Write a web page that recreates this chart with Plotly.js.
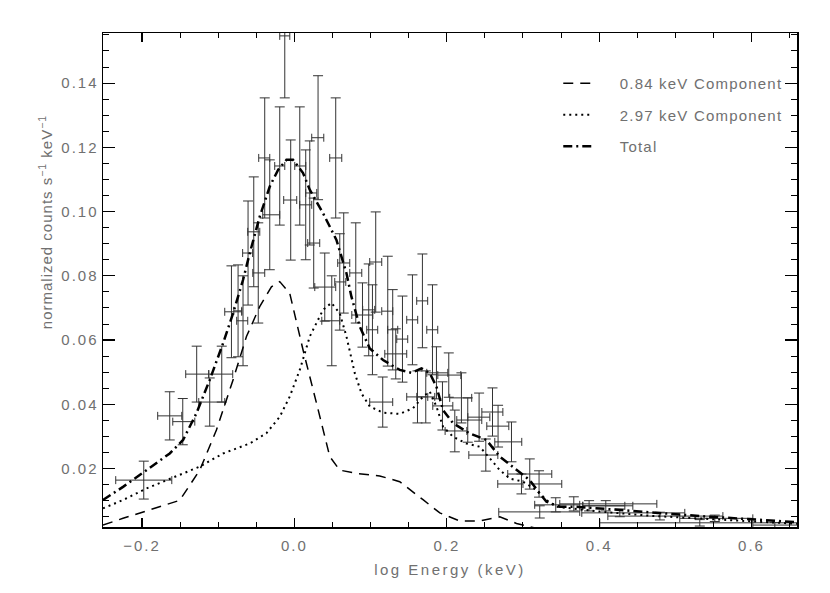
<!DOCTYPE html>
<html>
<head>
<meta charset="utf-8">
<script src="https://cdn.plot.ly/plotly-3.0.1.min.js"></script>
<style>
html,body{margin:0;padding:0;background:#fff;}
#chart{width:830px;height:593px;}
.xtick text, .ytick text {letter-spacing:2px;}
.xtitle {letter-spacing:2.5px;}
.annotation-text {letter-spacing:1px;}
.legendtext {letter-spacing:1.2px;}
</style>
</head>
<body>
<div id="chart"></div>
<script>
// Observed spectrum (log energy, counts) with errors
const dataX = [-0.1978,-0.1637,-0.1466,-0.1283,-0.1112,-0.0954,-0.0827,-0.0740,-0.0675,-0.0609,
  -0.0534,-0.0475,-0.0390,-0.0324,-0.0193,-0.0127,-0.0049,0.0070,0.0148,0.0201,
  0.0310,0.0253,0.0542,0.0398,0.0490,0.0595,0.0647,0.0805,0.0893,0.0975,
  0.1067,0.1024,0.1225,0.1290,0.1418,0.1330,0.1549,0.1680,0.1812,0.1159,
  0.1615,0.1724,0.1864,0.2026,0.1943,0.2192,0.2275,0.2105,0.2424,0.2600,
  0.2673,0.2512,0.2849,0.2980,0.3089,0.3211,0.3430,0.3667,0.3868,0.4087,
  0.3220,0.4271,0.4797,0.5518,0.5321,0.6306];
const dataY = [0.0164,0.0364,0.0346,0.0494,0.0407,0.0494,0.0688,0.0691,0.0660,0.0871,
  0.0937,0.0809,0.1167,0.0990,0.1142,0.1547,0.1036,0.1142,0.1021,0.1058,
  0.1230,0.0902,0.1167,0.0765,0.0660,0.0781,0.0840,0.0809,0.0678,0.0694,
  0.0843,0.0632,0.0690,0.0632,0.0603,0.0557,0.0663,0.0722,0.0632,0.0407,
  0.0423,0.0423,0.0498,0.0491,0.0395,0.0420,0.0351,0.0317,0.0360,0.0376,
  0.0332,0.0242,0.0283,0.0152,0.0183,0.0152,0.0087,0.0090,0.0084,0.0084,
  0.0065,0.0062,0.0052,0.0045,0.0031,0.0024];
const dataErrY = [0.0059,0.0075,0.0072,0.0087,0.0075,0.0087,0.0143,0.0143,0.0140,0.0162,
  0.0171,0.0156,0.0187,0.0171,0.0184,0.0193,0.0187,0.0184,0.0171,0.0162,
  0.0193,0.0140,0.0187,0.0106,0.0140,0.0150,0.0156,0.0156,0.0100,0.0143,
  0.0156,0.0140,0.0171,0.0125,0.0134,0.0078,0.0140,0.0146,0.0140,0.0078,
  0.0081,0.0081,0.0081,0.0069,0.0075,0.0078,0.0069,0.0065,0.0075,0.0075,
  0.0065,0.0050,0.0062,0.0031,0.0047,0.0041,0.0022,0.0022,0.0016,0.0016,
  0.0019,0.0012,0.0012,0.0010,0.0010,0.0008];
const dataErrXMinus = [0.0368,0.0158,0.0131,0.0144,0.0144,0.0171,0.0088,0.0056,0.0083,0.0071,
  0.0079,0.0072,0.0079,0.0092,0.0066,0.0066,0.0092,0.0066,0.0079,0.0053,
  0.0083,0.0079,0.0079,0.0131,0.0131,0.0066,0.0079,0.0079,0.0140,0.0079,
  0.0079,0.0075,0.0079,0.0066,0.0075,0.0144,0.0075,0.0075,0.0075,0.0171,
  0.0141,0.0118,0.0127,0.0144,0.0127,0.0154,0.0144,0.0127,0.0148,0.0140,
  0.0148,0.0223,0.0219,0.0311,0.0289,0.0122,0.0276,0.0184,0.0083,0.0302,
  0.0538,0.0499,0.0683,0.0460,0.1313,0.0289];
const dataErrXPlus = [0.0368,0.0158,0.0158,0.0158,0.0197,0.0144,0.0135,0.0049,0.0062,0.0060,
  0.0079,0.0085,0.0066,0.0131,0.0066,0.0066,0.0079,0.0079,0.0079,0.0092,
  0.0075,0.0079,0.0079,0.0144,0.0105,0.0079,0.0079,0.0079,0.0136,0.0079,
  0.0079,0.0069,0.0066,0.0066,0.0069,0.0144,0.0069,0.0069,0.0069,0.0131,
  0.0135,0.0118,0.0149,0.0158,0.0136,0.0135,0.0184,0.0158,0.0141,0.0136,
  0.0141,0.0158,0.0135,0.0020,0.0289,0.0298,0.0315,0.1090,0.0574,0.0250,
  0.0525,0.0853,0.0827,0.0499,0.1313,0.0880];

// 0.84 keV component (dashed)
const comp1X = [-0.2513,-0.225,-0.1506,-0.1243,-0.1024,-0.0806,-0.063,-0.0456,-0.0302,-0.0193,
  -0.0062,0.0113,0.0289,0.0464,0.0595,0.0814,0.112,0.1382,0.1688,0.1908,0.217,0.2433,0.2696,0.2915,0.3155];
const comp1Y = [0.0024,0.0045,0.0101,0.0195,0.032,0.0476,0.0611,0.0704,0.0766,0.0782,
  0.0746,0.0569,0.0404,0.0237,0.0195,0.0185,0.0177,0.0159,0.0103,0.0062,0.0037,0.0037,0.0050,0.0029,0.0015];

// 2.97 keV component (dotted)
const comp2X = [-0.2513,-0.225,-0.1943,-0.1615,-0.1243,-0.0937,-0.0587,-0.0368,-0.0193,-0.0062,
  0.007,0.0201,0.0375,0.0486,0.0595,0.0683,0.0792,0.088,0.0989,0.1163,0.1382,0.1557,0.1688,0.1776,
  0.1864,0.1951,0.2082,0.2258,0.2433,0.2564,0.2696,0.2827,0.3001,0.3177,0.3308,0.344,0.3614,
  0.401,0.4667,0.5323,0.598,0.6597];
const comp2Y = [0.0076,0.0102,0.0138,0.0170,0.0206,0.0247,0.0278,0.0310,0.0361,0.0424,
  0.0507,0.0611,0.0694,0.0716,0.0683,0.0611,0.0497,0.0434,0.0393,0.0374,0.0370,0.0388,0.0424,0.0440,
  0.0393,0.0330,0.0299,0.0278,0.0268,0.0232,0.0195,0.0169,0.0159,0.0133,0.0102,0.0081,0.0076,
  0.0066,0.0053,0.0044,0.0035,0.0028];

// Total model (dash-dot)
const totalX = [-0.2513,-0.225,-0.1943,-0.1637,-0.1462,-0.1287,-0.1112,-0.0937,-0.0806,-0.0675,
  -0.0587,-0.0456,-0.0324,-0.0215,-0.0105,-0.0018,0.0113,0.0201,0.0375,0.0551,0.0683,0.0748,
  0.0857,0.0989,0.1163,0.1382,0.1536,0.1667,0.1776,0.1864,0.1951,0.2082,0.2302,0.252,0.2696,
  0.2915,0.3089,0.322,0.3308,0.3483,0.370,0.427,0.532,0.6597];
const totalY = [0.0102,0.0143,0.0195,0.0247,0.0289,0.0372,0.0476,0.0590,0.0683,0.0787,
  0.0870,0.0984,0.1078,0.1130,0.1161,0.1161,0.1120,0.1068,0.0995,0.0912,0.0808,0.0735,
  0.0642,0.0574,0.0538,0.0507,0.0498,0.0512,0.0497,0.0455,0.0382,0.0341,0.0309,0.0289,0.0237,
  0.0195,0.0164,0.0122,0.0097,0.0081,0.0081,0.0071,0.0052,0.0033];

const legendNames = ['0.84 keV Component','2.97 keV Component','Total'];
const xTickVals = [-0.2, 0.0, 0.2, 0.4, 0.6];
const xTickText = ['\u22120.2','0.0','0.2','0.4','0.6'];
const yTickVals = [0.02,0.04,0.06,0.08,0.10,0.12,0.14];
const yTickText = ['0.02','0.04','0.06','0.08','0.10','0.12','0.14'];
const xTitle = 'log Energy (keV)';
const yTitle = 'normalized counts s<sup>\u22121</sup> keV<sup>\u22121</sup>';

const grey = '#707070';
const fontFam = 'Liberation Sans, DejaVu Sans, sans-serif';
const pad = '\u00a0\u00a0\u00a0\u00a0';

const traces = [
  {
    x: dataX, y: dataY, type: 'scatter', mode: 'markers', showlegend: false, hoverinfo: 'skip',
    marker: {size: 1, color: 'rgba(0,0,0,0)'},
    error_y: {type: 'data', array: dataErrY, visible: true, color: '#333', thickness: 1, width: 5},
    error_x: {type: 'data', array: dataErrXPlus, arrayminus: dataErrXMinus, symmetric: false, visible: true, color: '#333', thickness: 1, width: 4}
  },
  {
    x: comp1X, y: comp1Y, type: 'scatter', mode: 'lines', name: pad + legendNames[0], legendgroup: 'a',
    line: {color: '#000', width: 1.5, dash: '10px,7px'}
  },
  {
    x: comp2X, y: comp2Y, type: 'scatter', mode: 'lines', name: pad + legendNames[1], legendgroup: 'b',
    line: {color: '#000', width: 2, dash: '2px,4px'}
  },
  {
    x: totalX, y: totalY, type: 'scatter', mode: 'lines', name: pad + legendNames[2], legendgroup: 'c',
    line: {color: '#000', width: 2.5, dash: '9px,4px,2px,4px'}
  }
];

const layout = {
  width: 830, height: 593,
  margin: {l: 103, r: 33, t: 33, b: 66},
  paper_bgcolor: '#fff', plot_bgcolor: '#fff',
  font: {family: fontFam, color: grey, size: 14},
  showlegend: true,
  legend: {
    x: 0.656, xanchor: 'left', y: 0.931, yanchor: 'top',
    font: {family: fontFam, color: grey, size: 15},
    bgcolor: 'rgba(0,0,0,0)', borderwidth: 0,
    traceorder: 'grouped', tracegroupgap: 9
  },
  xaxis: {
    range: [-0.2513, 0.6597], autorange: false,
    tickmode: 'array', tickvals: xTickVals, ticktext: xTickText,
    ticks: 'inside', ticklen: 9, tickwidth: 1.2, tickcolor: '#000',
    minor: {dtick: 0.05, tick0: 0, ticks: 'inside', ticklen: 5, tickwidth: 1, tickcolor: '#000'},
    showline: true, linecolor: '#000', linewidth: 1.5, mirror: 'ticks',
    showgrid: false, zeroline: false, ticklabelstandoff: 4,
    tickfont: {family: fontFam, color: grey, size: 15},
    title: {text: xTitle, font: {family: fontFam, color: grey, size: 15}, standoff: 12}
  },
  yaxis: {
    range: [0.0018, 0.1556], autorange: false,
    tickmode: 'array', tickvals: yTickVals, ticktext: yTickText,
    ticks: 'inside', ticklen: 12, tickwidth: 1.2, tickcolor: '#000',
    minor: {dtick: 0.005, tick0: 0, ticks: 'inside', ticklen: 6, tickwidth: 1, tickcolor: '#000'},
    showline: true, linecolor: '#000', linewidth: 1.5, mirror: 'ticks',
    showgrid: false, zeroline: false,
    tickfont: {family: fontFam, color: grey, size: 15}
  },
  annotations: [{
    text: yTitle, xref: 'paper', yref: 'paper', x: -0.0836, y: 0.617,
    xanchor: 'center', yanchor: 'middle', textangle: -90, showarrow: false,
    font: {family: fontFam, color: grey, size: 15}
  }]
};

Plotly.newPlot('chart', traces, layout, {displayModeBar: false, staticPlot: true});
</script>
</body>
</html>
